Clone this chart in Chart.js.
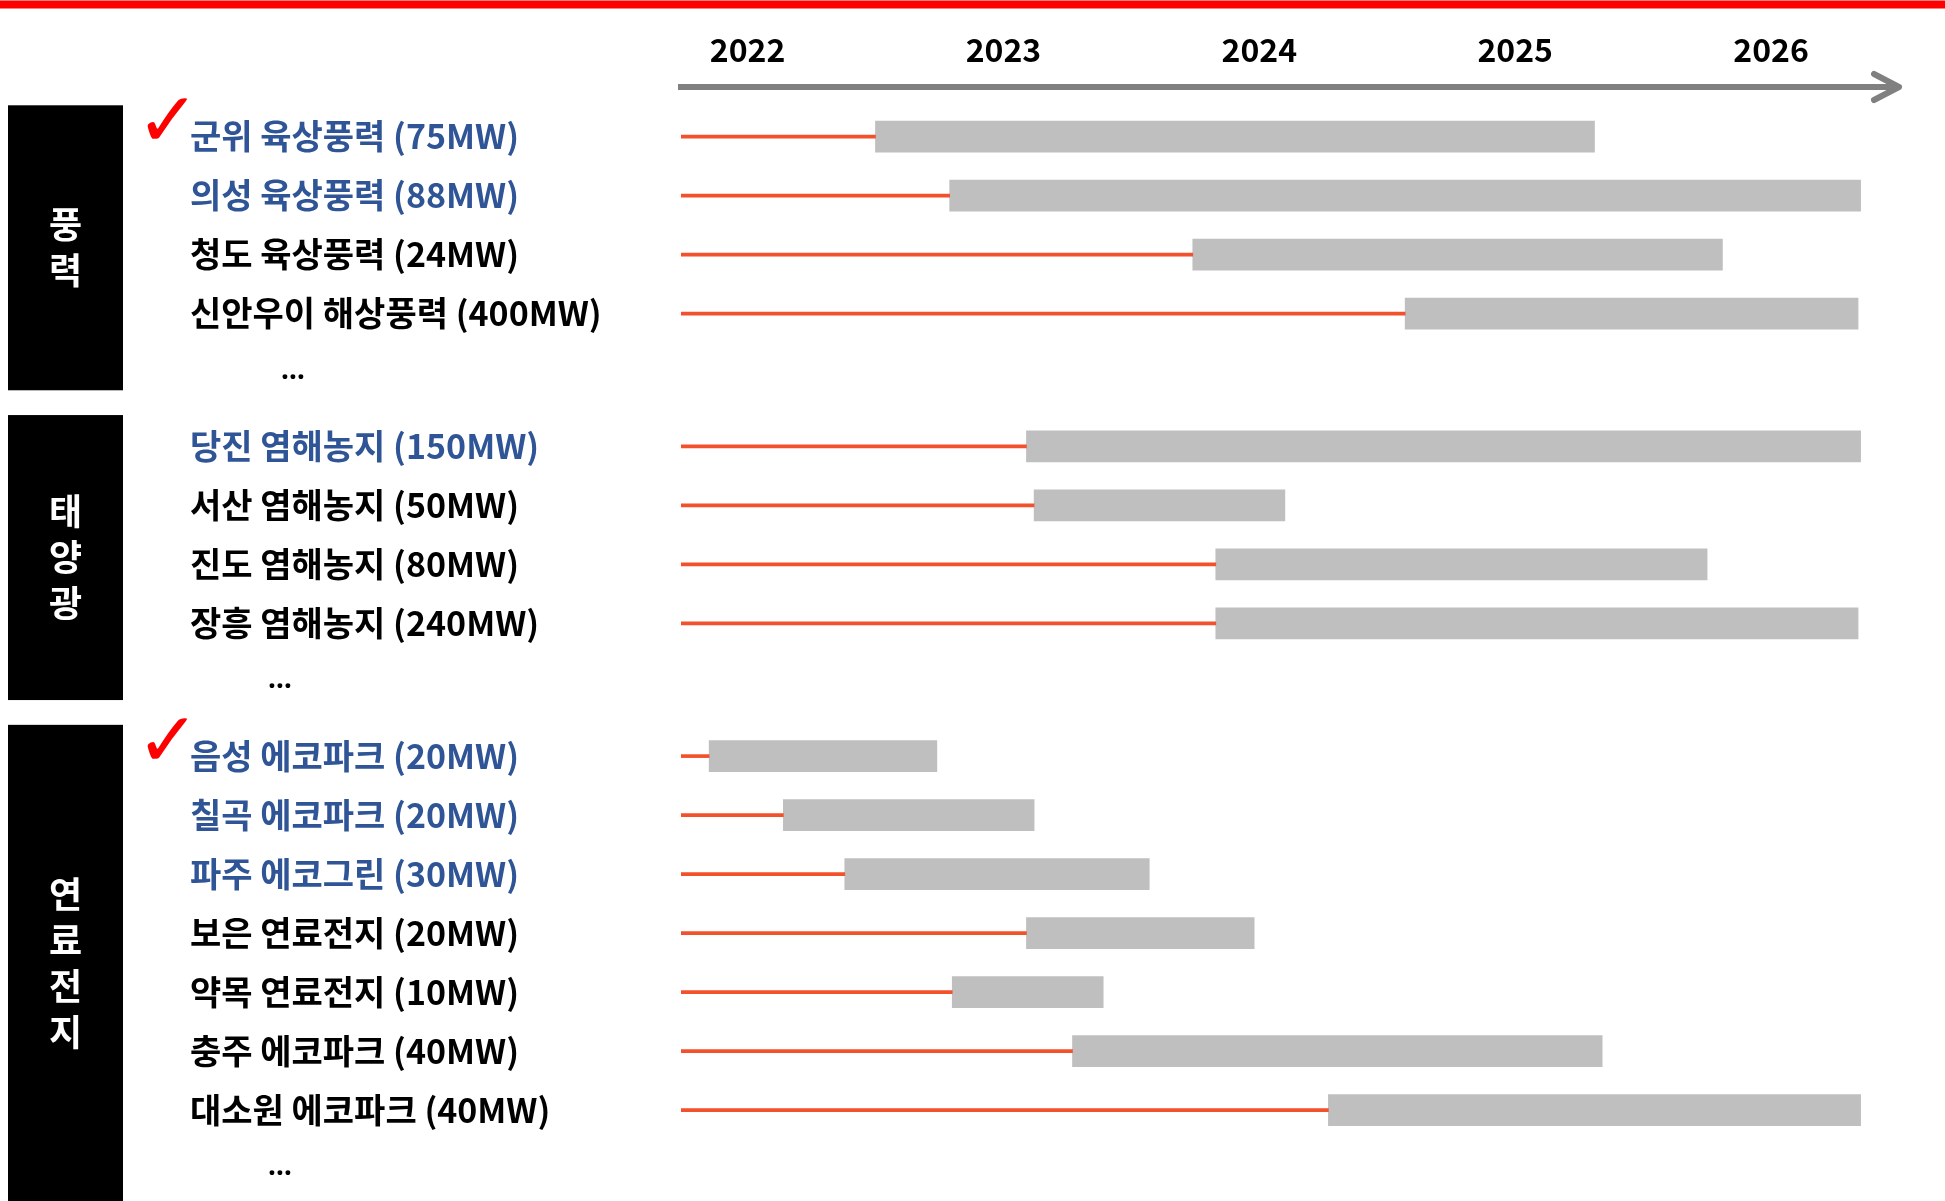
<!DOCTYPE html>
<html>
<head>
<meta charset="utf-8">
<script src="https://cdn.jsdelivr.net/npm/chart.js@4.4.1/dist/chart.umd.min.js"></script>
<style>
  body { margin: 0; background: #fff; overflow: hidden; }
  #wrap { width: 1945px; height: 1201px; position: relative; }
</style>
</head>
<body>
<div id="wrap"><canvas id="timeline"></canvas></div>
<script>
var groupNames = ['풍력', '태양광', '연료전지'];
var projects = [
  '군위 육상풍력 (75MW)', '의성 육상풍력 (88MW)', '청도 육상풍력 (24MW)', '신안우이 해상풍력 (400MW)',
  '당진 염해농지 (150MW)', '서산 염해농지 (50MW)', '진도 염해농지 (80MW)', '장흥 염해농지 (240MW)',
  '음성 에코파크 (20MW)', '칠곡 에코파크 (20MW)', '파주 에코그린 (30MW)', '보은 연료전지 (20MW)',
  '약목 연료전지 (10MW)', '충주 에코파크 (40MW)', '대소원 에코파크 (40MW)'
];
var projectGroup = [0, 0, 0, 0, 1, 1, 1, 1, 2, 2, 2, 2, 2, 2, 2];
var startYear = [2022.50, 2022.79, 2023.74, 2024.57, 2023.09, 2023.12, 2023.83, 2023.83,
                 2021.85, 2022.14, 2022.38, 2023.09, 2022.80, 2023.27, 2024.27];
var endYear = [2025.31, 2026.35, 2025.81, 2026.34, 2026.35, 2024.10, 2025.75, 2026.34,
               2022.74, 2023.12, 2023.57, 2023.98, 2023.39, 2025.34, 2026.35];
var highlighted = [1, 1, 0, 0, 1, 0, 0, 0, 1, 1, 1, 0, 0, 0, 0];
var checked = [1, 0, 0, 0, 0, 0, 0, 0, 1, 0, 0, 0, 0, 0, 0];
var yearTicks = [2022, 2023, 2024, 2025, 2026];
var timelineStart = 2021.74;
var timelineEnd = 2026.5;

var FONT = "'Noto Sans CJK KR', 'Malgun Gothic', sans-serif";
var BLUE = '#2F5597';
var GROUP_GAP = 2.25;

// row index on the y axis, with a gap between groups
var rowPos = [];
var pos = 0;
for (var i = 0; i < projects.length; i++) {
  if (i > 0) pos += (projectGroup[i] !== projectGroup[i - 1]) ? GROUP_GAP : 1;
  rowPos.push(pos);
}

function groupRows(g) {
  var rows = [];
  for (var i = 0; i < projects.length; i++) {
    if (projectGroup[i] === g) rows.push(rowPos[i]);
  }
  return rows;
}

var decorations = {
  id: 'decorations',
  afterDraw: function(chart) {
    var ctx = chart.ctx;
    var y = chart.scales.y;
    var area = chart.chartArea;
    ctx.save();

    // red band at the top
    ctx.fillStyle = '#ff0000';
    ctx.fillRect(0, 0.5, chart.width, 8);

    // arrow head on the time axis
    ctx.strokeStyle = '#808080';
    ctx.lineWidth = 6;
    ctx.lineCap = 'round';
    ctx.lineJoin = 'round';
    ctx.beginPath();
    ctx.moveTo(area.right - 25, area.top - 13);
    ctx.lineTo(area.right, area.top);
    ctx.lineTo(area.right - 25, area.top + 13);
    ctx.stroke();

    // group boxes, names and dots
    for (var g = 0; g < groupNames.length; g++) {
      var rows = groupRows(g);
      var first = rows[0], last = rows[rows.length - 1];
      var top = y.getPixelForValue(first - 0.53);
      var bottom = (g === groupNames.length - 1) ? chart.height : y.getPixelForValue(last + 1.3);
      ctx.fillStyle = '#000';
      ctx.fillRect(8, top, 115, bottom - top);

      var chars = Array.from(groupNames[g]);
      var mid = (top + bottom) / 2;
      ctx.fillStyle = '#fff';
      ctx.font = 'bold 36px ' + FONT;
      ctx.textAlign = 'center';
      ctx.textBaseline = 'middle';
      for (var k = 0; k < chars.length; k++) {
        ctx.fillText(chars[k], 65.5, mid + (k - (chars.length - 1) / 2) * 46);
      }

      ctx.fillStyle = '#000';
      ctx.font = 'bold 28px "Noto Sans", sans-serif';
      ctx.textBaseline = 'alphabetic';
      ctx.fillText('…', g === 0 ? 293 : 280, y.getPixelForValue(last + 1) + 6);
    }

    // check marks
    ctx.fillStyle = '#ff0000';
    ctx.font = 'bold 76px "DejaVu Sans"';
    ctx.textAlign = 'center';
    ctx.textBaseline = 'middle';
    for (var i = 0; i < projects.length; i++) {
      if (checked[i]) ctx.fillText('✓', 168, y.getPixelForValue(rowPos[i]) - 10);
    }
    ctx.restore();
  }
};

Chart.defaults.font.family = FONT;

new Chart(document.getElementById('timeline'), {
  type: 'bar',
  data: {
    datasets: [
      {
        label: 'lead',
        data: rowPos.map(function(p, i) { return { x: [timelineStart, startYear[i]], y: p }; }),
        backgroundColor: '#F3512C',
        barThickness: 3,
        grouped: false
      },
      {
        label: 'period',
        data: rowPos.map(function(p, i) { return { x: [startYear[i], endYear[i]], y: p }; }),
        backgroundColor: '#BFBFBF',
        barThickness: 31,
        grouped: false
      }
    ]
  },
  options: {
    indexAxis: 'y',
    responsive: true,
    maintainAspectRatio: false,
    animation: false,
    events: [],
    layout: { padding: { left: 190, right: 46, top: 0, bottom: 0 } },
    plugins: {
      legend: { display: false },
      tooltip: { enabled: false }
    },
    scales: {
      x: {
        type: 'linear',
        position: 'top',
        min: timelineStart,
        max: timelineEnd,
        grid: { display: false, drawTicks: false },
        border: { display: true, color: '#808080', width: 6 },
        afterBuildTicks: function(axis) {
          axis.ticks = yearTicks.map(function(v) { return { value: v }; });
        },
        afterFit: function(axis) { axis.height = 87; },
        ticks: {
          autoSkip: false,
          maxRotation: 0,
          padding: 18,
          color: '#000',
          font: { size: 32, weight: 'bold' },
          callback: function(v) { return String(v); }
        }
      },
      y: {
        type: 'linear',
        reverse: true,
        offset: false,
        min: -0.84,
        max: 18.04,
        grid: { display: false },
        border: { display: false },
        afterBuildTicks: function(axis) {
          axis.ticks = rowPos.map(function(v) { return { value: v }; });
        },
        afterFit: function(axis) {
          axis.width = 491;
          axis.paddingTop = 0;
          axis.paddingBottom = 0;
        },
        ticks: {
          autoSkip: false,
          crossAlign: 'far',
          font: { size: 34, weight: 'bold' },
          color: function(c) { return highlighted[c.index] ? BLUE : '#000'; },
          callback: function(v, index) { return projects[index]; }
        }
      }
    }
  },
  plugins: [decorations]
});
</script>
</body>
</html>
